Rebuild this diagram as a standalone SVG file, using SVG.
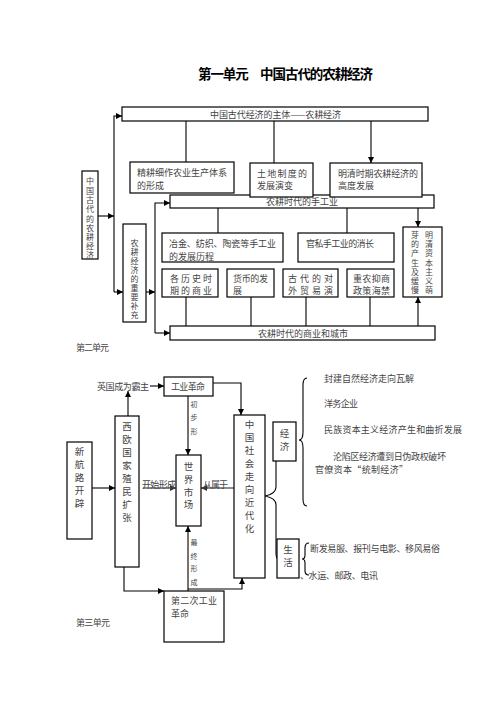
<svg xmlns="http://www.w3.org/2000/svg" width="496" height="702" viewBox="0 0 496 702">
<style>
text{font-family:"Noto Sans CJK SC","Noto Sans CJK JP",sans-serif;font-size:9px;fill:#444}
.t{font-size:13.5px;font-weight:bold;fill:#000}
.b{fill:#fff;stroke:#000;stroke-width:1.2}
.c{fill:none;stroke:#000;stroke-width:1.1}
.g{fill:none;stroke:#666;stroke-width:1.6}
.v{font-size:9.5px;text-anchor:middle}
.vs{font-size:8px;text-anchor:middle}
.s{font-size:7px;text-anchor:middle}
.m{text-anchor:middle}
</style>
<defs>
<marker id="a" markerUnits="userSpaceOnUse" markerWidth="6" markerHeight="6" refX="6" refY="3" orient="auto"><path d="M0,0L6,3L0,6z" fill="#000"/></marker>
<marker id="ag" markerUnits="userSpaceOnUse" markerWidth="6" markerHeight="6" refX="6" refY="3" orient="auto"><path d="M0,0L6,3L0,6z" fill="#333"/></marker>
</defs>
<rect width="496" height="702" fill="#fff"/>
<text class="t" x="198" y="79" textLength="175">第一单元　中国古代的农耕经济</text>

<g id="connectors">
<path class="c" d="M186,121V162M274,121V163M371,121V163" marker-end="url(#a)"/>
<path class="c" d="M114,292V116H122" marker-end="url(#a)"/>
<path class="c" d="M98,216H114" marker-end="url(#a)"/>
<path class="c" d="M114,292H123" marker-end="url(#a)"/>
<path class="c" d="M155,333V203H170" marker-end="url(#a)"/>
<path class="c" d="M155,333H170" marker-end="url(#a)"/>
<path class="c" d="M146,292H155" marker-end="url(#a)"/>
<path class="c" d="M218,208V233M347,208V233M418,208V227" marker-end="url(#a)"/>
<path class="c" d="M186,326V297M251,326V297M306,326V297M370,326V297M418,326V297" marker-end="url(#a)"/>

<path class="c" d="M150,386H164" marker-end="url(#a)"/>
<path class="c" d="M213,383H241V415" marker-end="url(#a)"/>
<path class="c" d="M128,416V391" marker-end="url(#a)"/>
<path class="c" d="M188,396V455" marker-end="url(#a)"/>
<path class="c" d="M92,488H115" marker-end="url(#a)"/>
<path class="g" d="M143,488H176" marker-end="url(#ag)"/>
<path class="g" d="M234,488H201" marker-end="url(#ag)"/>
<path class="c" d="M188,591V526" marker-end="url(#a)"/>
<path class="c" d="M124,567V591H164" marker-end="url(#a)"/>
<path class="c" d="M188,589H242V578" marker-end="url(#a)"/>
<path class="c" d="M276,461V487Q276,494 265,496Q276,498 276,505V553Q276,558 278,559"/>
<path class="c" d="M307,378Q303,378 303,385V432Q303,440 299,440Q303,440 303,448V499Q303,506 307,506"/>
<path class="c" d="M309,543Q305,543 305,548V555Q305,559 302,559Q305,559 305,563V571Q305,575 309,575"/>
</g>

<g id="n1"><rect class="b" x="122" y="107" width="306" height="14"/><text x="210" y="117.5" textLength="131">中国古代经济的主体——农耕经济</text></g>
<g id="n2"><rect class="b" x="130" y="162" width="104" height="31"/><text x="137" y="175.5" textLength="90">精耕细作农业生产体系</text><text x="137" y="188.5">的形成</text></g>
<g id="n5"><rect class="b" x="170" y="195" width="264" height="13"/><text class="m" x="302" y="204.5">农耕时代的手工业</text></g>
<g id="n3"><rect class="b" x="250" y="163" width="63" height="34"/><text x="257" y="176.5" textLength="50">土地制度的</text><text x="257" y="189">发展演变</text></g>
<g id="n4"><rect class="b" x="330" y="163" width="92" height="34"/><text x="338" y="176.5" textLength="80">明清时期农耕经济的</text><text x="338" y="189">高度发展</text></g>
<g id="n0"><rect class="b" x="82" y="171" width="16" height="88"/><text class="vs" x="90 90 90 90 90 90 90 90 90" y="184.8 194 203.2 212.4 221.6 230.8 240 249.2 258.4" dy="-1">中国古代的农耕经济</text></g>
<g id="n6"><rect class="b" x="123" y="224" width="23" height="98"/><text class="vs" x="134.5 134.5 134.5 134.5 134.5 134.5 134.5 134.5 134.5" y="246 255 264 273 282 291 300 309 318">农耕经济的重要补充</text></g>
<g id="n7"><rect class="b" x="162" y="233" width="121" height="29"/><text x="169" y="246.5" textLength="107">冶金、纺织、陶瓷等手工业</text><text x="169" y="259.5">的发展历程</text></g>
<g id="n8"><rect class="b" x="298" y="233" width="96" height="29"/><text x="306" y="246.5" textLength="68">官私手工业的消长</text></g>
<g id="n9"><rect class="b" x="403" y="227" width="39" height="70"/><text class="vs" x="429 429 429 429 429 429 429" y="238 247.2 256.4 265.6 274.8 284 293.2">明清资本主义萌</text><text class="vs" x="415 415 415 415 415 415 415" y="238 247.2 256.4 265.6 274.8 284 293.2">芽的产生及缓慢</text></g>
<g id="n10"><rect class="b" x="162" y="269" width="56" height="28"/><text x="170" y="281.5" textLength="42">各历史时</text><text x="170" y="293.5" textLength="42">期的商业</text></g>
<g id="n11"><rect class="b" x="227" y="269" width="47" height="28"/><text x="233" y="281.5" textLength="35">货币的发</text><text x="233" y="293.5">展</text></g>
<g id="n12"><rect class="b" x="283" y="269" width="55" height="28"/><text x="288" y="281.5" textLength="45">古代的对</text><text x="288" y="293.5" textLength="45">外贸易演</text></g>
<g id="n13"><rect class="b" x="347" y="269" width="47" height="28"/><text x="353" y="281.5" textLength="37">重农抑商</text><text x="353" y="293.5" textLength="37">政策海禁</text></g>
<g id="n14"><rect class="b" x="170" y="326" width="265" height="14"/><text class="m" x="303" y="336.5">农耕时代的商业和城市</text></g>
<text x="76" y="351" font-size="8.5" textLength="33">第二单元</text>

<g id="m1"><text x="97" y="389.5" textLength="52">英国成为霸主</text></g>
<g id="m2"><rect class="b" x="164" y="377" width="49" height="19"/><text x="171" y="390" textLength="34">工业革命</text></g>
<text class="s" x="194 194 194" y="406.5 419.5 433.5">初步形</text>
<g id="m3"><rect class="b" x="67" y="442" width="25" height="97"/><text class="v" x="79.5 79.5 79.5 79.5 79.5" y="454.5 467.5 481 494 507">新航路开辟</text></g>
<g id="m4"><rect class="b" x="115" y="416" width="24" height="151"/><text class="v" x="127 127 127 127 127 127 127 127" y="429.5 442.5 455.5 468.5 481.5 494.5 507.5 520.5">西欧国家殖民扩张</text></g>
<g id="m5"><rect class="b" x="176" y="455" width="25" height="71"/><text class="v" x="188.5 188.5 188.5 188.5" y="469.5 482.5 495.5 507.5">世界市场</text></g>
<text x="142" y="487.5" textLength="34">开始形成</text>
<text x="203" y="487.5" textLength="25">从属于</text>
<g id="m6"><rect class="b" x="234" y="415" width="31" height="163"/><text class="v" x="249.5 249.5 249.5 249.5 249.5 249.5 249.5 249.5 249.5" y="427.5 440.5 453.5 466.5 480 493 506 518.5 531.5">中国社会走向近代化</text></g>
<text class="s" x="194 194 194 194" y="544.5 558.5 570.5 584.5">最终形成</text>
<g id="m7"><rect class="b" x="164" y="591" width="60" height="51"/><text x="171" y="603.5" textLength="46">第二次工业</text><text x="171" y="616.5">革命</text></g>
<g id="m8"><rect class="b" x="273" y="422" width="23" height="39"/><text class="v" x="284.5 284.5" y="436.5 449.5">经济</text></g>
<g id="m9"><rect class="b" x="277" y="539" width="22" height="39"/><text class="v" x="288 288" y="552.5 565.5">生活</text></g>
<text x="324" y="381.5" font-size="8">封建自然经济走向瓦解</text>
<text x="324" y="406.5" textLength="34">洋务企业</text>
<text x="324" y="432.5" textLength="138">民族资本主义经济产生和曲折发展</text>
<text x="333" y="459.5" textLength="113">沦陷区经济遭到日伪政权破坏</text>
<text x="315" y="472.5" textLength="93">官僚资本“统制经济”</text>
<text x="310" y="551.5" textLength="130">断发易服、报刊与电影、移风易俗</text>
<text x="300" y="578.5" textLength="78">、水运、邮政、电讯</text>
<text x="76" y="626" font-size="8.5" textLength="34">第三单元</text>
</svg>
